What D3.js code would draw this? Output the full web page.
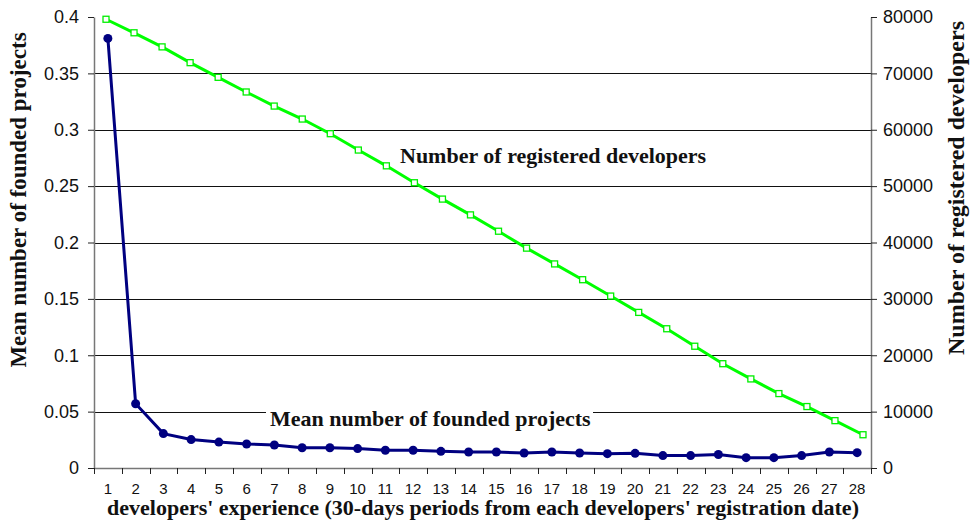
<!DOCTYPE html>
<html lang="en">
<head>
  <meta charset="UTF-8">
  <title>Founded projects vs developers' experience</title>
  <style>
    body {
      margin: 0;
      padding: 0;
      background-color: #ffffff;
    }
    svg {
      display: block;
    }
    .tick-label {
      font-family: 'Liberation Sans', Arial, sans-serif;
      fill: #111;
    }
    .title {
      font-family: 'Liberation Serif', 'Times New Roman', serif;
      font-weight: bold;
      fill: #111;
    }
  </style>
</head>
<body>

<svg width="972" height="526"></svg>

<script src="https://d3js.org/d3.v7.min.js"></script>
<script>
  const width = 972, height = 526;

  // 30-day periods since registration
  const periods = d3.range(1, 29);

  // mean number of founded projects (left axis)
  const meanProjects = [0.381, 0.057, 0.0305, 0.0252, 0.023, 0.0213, 0.0204, 0.018, 0.018, 0.0172,
    0.0157, 0.0157, 0.0148, 0.0142, 0.0142, 0.0133, 0.0142, 0.0133, 0.0127, 0.013,
    0.011, 0.011, 0.012, 0.0092, 0.0092, 0.011, 0.0142, 0.0136];

  // number of registered developers (right axis)
  const developers = [79600, 77200, 74700, 71900, 69300, 66700, 64200, 61900, 59300, 56400,
    53600, 50600, 47700, 44900, 42000, 39000, 36200, 33400, 30500, 27600,
    24700, 21600, 18500, 15800, 13200, 10900, 8400, 5900];

  const leftTicks = [0, 0.05, 0.1, 0.15, 0.2, 0.25, 0.3, 0.35, 0.4];
  const rightTicks = [0, 10000, 20000, 30000, 40000, 50000, 60000, 70000, 80000];

  const plot = {left: 94, right: 871, top: 17, bottom: 468};

  const svg = d3.select("svg");

  const x = d3.scaleBand()
    .domain(periods)
    .range([plot.left, plot.right]);

  // the developers series sits on its own (slightly wider) category axis
  const x2 = d3.scalePoint()
    .domain(periods)
    .range([106, 863]);

  const yL = d3.scaleLinear().domain([0, 0.4]).range([plot.bottom, plot.top]);
  const yR = d3.scaleLinear().domain([0, 80000]).range([plot.bottom, plot.top]);

  // gridlines
  svg.append("g")
    .selectAll("line")
    .data(leftTicks.filter(d => d > 0 && d < 0.4))
    .enter()
    .append("line")
    .attr("x1", plot.left)
    .attr("x2", plot.right)
    .attr("y1", d => Math.round(yL(d)) + 0.5)
    .attr("y2", d => Math.round(yL(d)) + 0.5)
    .attr("stroke", "#111")
    .attr("stroke-width", 1);

  // left axis
  const gL = svg.append("g")
    .attr("transform", `translate(${plot.left},0)`)
    .call(d3.axisLeft(yL).tickValues(leftTicks).tickSize(6).tickSizeOuter(0).tickFormat(d => d));
  gL.select(".domain").attr("stroke", "#777").attr("stroke-width", 1.5);
  gL.selectAll(".tick line").attr("stroke", "#222");
  gL.selectAll(".tick text")
    .attr("class", "tick-label")
    .attr("x", -15)
    .style("font-size", "18px")
    .attr("font-family", null);

  // right axis
  const gR = svg.append("g")
    .attr("transform", `translate(${plot.right},0)`)
    .call(d3.axisRight(yR).tickValues(rightTicks).tickSize(6).tickSizeOuter(0).tickFormat(d => d));
  gR.select(".domain").attr("stroke", "#777").attr("stroke-width", 1.5);
  gR.selectAll(".tick line").attr("stroke", "#222");
  gR.selectAll(".tick text")
    .attr("class", "tick-label")
    .attr("x", 12)
    .style("font-size", "18px")
    .attr("font-family", null);

  // bottom axis, ticks between categories
  const gB = svg.append("g")
    .attr("transform", `translate(0,${plot.bottom})`)
    .call(d3.axisBottom(x).tickSize(0).tickSizeOuter(0));
  gB.select(".domain").attr("stroke", "#777").attr("stroke-width", 1.5);
  gB.selectAll(".tick text")
    .attr("class", "tick-label")
    .attr("y", 15)
    .style("font-size", "15px")
    .attr("font-family", null);
  gB.selectAll(".between")
    .data(periods.concat([null]))
    .enter()
    .append("line")
    .attr("x1", (d, i) => Math.round(plot.left + i * x.bandwidth()) + 0.5)
    .attr("x2", (d, i) => Math.round(plot.left + i * x.bandwidth()) + 0.5)
    .attr("y1", 0)
    .attr("y2", 6)
    .attr("stroke", "#222");

  // in-plot label with white box over the gridline
  const meanLabel = svg.append("g");
  meanLabel.append("rect")
    .attr("x", 266).attr("y", 404).attr("width", 327).attr("height", 28)
    .attr("fill", "#fff");
  meanLabel.append("text")
    .attr("class", "title")
    .attr("x", 270).attr("y", 426)
    .style("font-size", "22px")
    .text("Mean number of founded projects");

  svg.append("text")
    .attr("class", "title")
    .attr("x", 400).attr("y", 163)
    .style("font-size", "22px")
    .text("Number of registered developers");

  // developers line
  svg.append("path")
    .datum(developers)
    .attr("fill", "none")
    .attr("stroke", "#00ff00")
    .attr("stroke-width", 3)
    .attr("d", d3.line().x((d, i) => x2(periods[i])).y(d => yR(d)));

  svg.append("g")
    .selectAll("rect")
    .data(developers)
    .enter()
    .append("rect")
    .attr("x", (d, i) => x2(periods[i]) - 3)
    .attr("y", d => yR(d) - 3)
    .attr("width", 6)
    .attr("height", 6)
    .attr("fill", "#fff")
    .attr("stroke", "#00ee00")
    .attr("stroke-width", 1.3);

  // mean projects line
  svg.append("path")
    .datum(meanProjects)
    .attr("fill", "none")
    .attr("stroke", "#000080")
    .attr("stroke-width", 3)
    .attr("d", d3.line().x((d, i) => x(periods[i]) + x.bandwidth() / 2).y(d => yL(d)));

  svg.append("g")
    .selectAll("circle")
    .data(meanProjects)
    .enter()
    .append("circle")
    .attr("cx", (d, i) => x(periods[i]) + x.bandwidth() / 2)
    .attr("cy", d => yL(d))
    .attr("r", 4.5)
    .attr("fill", "#000080");

  // axis titles
  svg.append("text")
    .attr("class", "title")
    .attr("text-anchor", "middle")
    .attr("transform", "translate(26,200) rotate(-90)")
    .style("font-size", "23px")
    .text("Mean number of founded projects");

  svg.append("text")
    .attr("class", "title")
    .attr("text-anchor", "middle")
    .attr("transform", "translate(964,188) rotate(-90)")
    .style("font-size", "24px")
    .text("Number of registered developers");

  svg.append("text")
    .attr("class", "title")
    .attr("text-anchor", "middle")
    .attr("x", 483).attr("y", 515)
    .style("font-size", "22px")
    .text("developers' experience (30-days periods from each developers' registration date)");
</script>

</body>
</html>
